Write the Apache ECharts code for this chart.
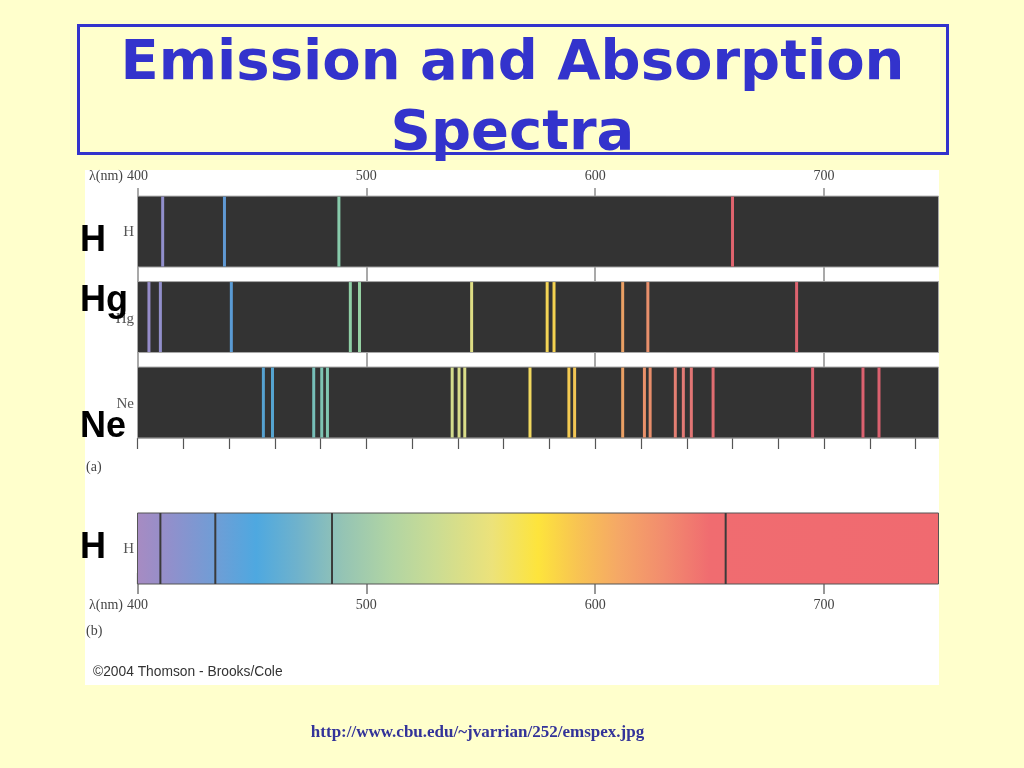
<!DOCTYPE html>
<html><head><meta charset="utf-8">
<script src="https://cdn.jsdelivr.net/npm/echarts@6/dist/echarts.min.js"></script>
<style>html,body{margin:0;padding:0;background:#ffffcc}#c{width:1024px;height:768px}</style>
</head><body><div id="c"></div>
<script>
// ---------- data ----------
const xMin = 400, xMax = 750;
const majorTickValues = [400, 500, 600, 700];
const minorTickValues = [400, 420, 440, 460, 480, 500, 520, 540, 560, 580, 600, 620, 640, 660, 680, 700, 720, 740];
const elements = ['H', 'Hg', 'Ne'];
const hEmission = [411, 438, 488, 660];
const hgEmission = [405, 410, 441, 493, 497, 546, 579, 582, 612, 623, 688];
const neEmission = [455, 459, 477, 480.5, 483, 537.5, 540.5, 543, 571.5, 588.5, 591, 612, 621.5, 624, 635, 638.5, 642, 651.5, 695, 717, 724];
const hAbsorption = [410, 434, 485, 657];
// continuous spectrum colour stops (wavelength -> colour)
const spectrumWl = [400, 415, 435, 452, 470, 490, 510, 530, 555, 575, 592, 610, 630, 650, 750];
const spectrumColors = ['#a78bc2', '#9090cc', '#6e9ed6', '#4ea8e0', '#6fb2cc', '#95c4b4', '#b0d4a4', '#cadc94', '#ece27a', '#fde43c', '#f8c452', '#f5a866', '#f28c6e', '#f06c70', '#f06a70'];
// emission line colour stops
const emissionWl = [400, 425, 440, 460, 480, 495, 540, 560, 585, 600, 612, 625, 640, 660, 750];
const emissionColors = ['#9a8cc8', '#8593d0', '#5a9ad4', '#55a5d0', '#7cc4b4', '#92d2a4', '#d6dc8c', '#f0e070', '#f4d04c', '#f0b860', '#eba064', '#e88c6c', '#e27876', '#e0646e', '#d86070'];

// ---------- helpers ----------
function hexToRgb(h) { return [parseInt(h.substr(1, 2), 16), parseInt(h.substr(3, 2), 16), parseInt(h.substr(5, 2), 16)]; }
function colorAt(w, wls, cols) {
  if (w <= wls[0]) return cols[0];
  for (let i = 1; i < wls.length; i++) {
    if (w <= wls[i]) {
      const t = (w - wls[i - 1]) / (wls[i] - wls[i - 1]);
      const a = hexToRgb(cols[i - 1]), b = hexToRgb(cols[i]);
      const c = a.map((v, k) => Math.round(v + (b[k] - v) * t));
      return 'rgb(' + c.join(',') + ')';
    }
  }
  return cols[cols.length - 1];
}
const BAND_HALF = 0.415; // in row units
const serif = '"Liberation Serif", "DejaVu Serif", serif';
const sans = '"Liberation Sans", Arial, sans-serif';
const titleFont = 'bold 56px "DejaVu Sans", Verdana, sans-serif';

const emissionData = [].concat(
  hEmission.map(w => [w, 0]),
  hgEmission.map(w => [w, 1]),
  neEmission.map(w => [w, 2])
);
const bandData = elements.map((e, i) => [xMin, i, xMax]);

const chart = echarts.init(document.getElementById('c'), null, { renderer: 'canvas' });

const labelStyle = { fontFamily: serif, fontSize: 14, color: '#444' };
function txt(x, y, text, font, fill, align, z) {
  return { type: 'text', z: z || 5, x: x, y: y, silent: true,
    style: { text: text, font: font, fill: fill, align: align, verticalAlign: 'middle', textAlign: align, textVerticalAlign: 'middle' } };
}
const gridLineColor = '#8c8c8c';

const option = {
  backgroundColor: '#ffffcc',
  animation: false,
  grid: [
    { left: 137.5, right: 85.5, top: 188, height: 250 },
    { left: 137.5, right: 85.5, top: 513, height: 71 }
  ],
  xAxis: [
    { type: 'value', gridIndex: 0, position: 'top', min: xMin, max: xMax, interval: 100,
      axisLine: { show: false }, axisTick: { show: false },
      axisLabel: Object.assign({ margin: 5, customValues: majorTickValues }, labelStyle),
      splitLine: { show: true, lineStyle: { color: [gridLineColor, gridLineColor, gridLineColor, gridLineColor, 'rgba(0,0,0,0)'], width: 1.5 } } },
    { type: 'value', gridIndex: 0, position: 'bottom', min: xMin, max: xMax, interval: 20,
      axisLine: { show: true, lineStyle: { color: '#b0b0b0', width: 1 } },
      axisTick: { show: true, customValues: minorTickValues, length: 11, lineStyle: { color: '#555', width: 1.2 } },
      axisLabel: { show: false }, splitLine: { show: false } },
    { type: 'value', gridIndex: 1, position: 'top', min: xMin, max: xMax, interval: 20,
      axisLine: { show: false },
      axisTick: { show: true, customValues: minorTickValues, length: 11, lineStyle: { color: '#555', width: 1.2 } },
      axisLabel: { show: false }, splitLine: { show: false } },
    { type: 'value', gridIndex: 1, position: 'bottom', min: xMin, max: xMax, interval: 100,
      axisLine: { show: false },
      axisTick: { show: true, customValues: majorTickValues, length: 10, lineStyle: { color: '#777', width: 1.5 } },
      axisLabel: Object.assign({ margin: 14, customValues: majorTickValues }, labelStyle),
      splitLine: { show: false } }
  ],
  yAxis: [
    { type: 'value', gridIndex: 0, min: -0.51, max: 2.415, inverse: true, show: false },
    { type: 'value', gridIndex: 1, min: 0, max: 1, show: false }
  ],
  series: [
    { type: 'custom', name: 'bands', xAxisIndex: 0, yAxisIndex: 0, z: 2, silent: true,
      encode: { x: [0, 2], y: 1 }, data: bandData,
      renderItem: function (params, api) {
        const r = api.value(1);
        const p0 = api.coord([api.value(0), r]);
        const p1 = api.coord([api.value(2), r]);
        const h = api.size([0, 1])[1] * BAND_HALF;
        return { type: 'rect', shape: { x: p0[0], y: p0[1] - h, width: p1[0] - p0[0], height: 2 * h },
          style: { fill: '#333333', stroke: '#a8a8a8', lineWidth: 1 } };
      } },
    { type: 'custom', name: 'emission', xAxisIndex: 0, yAxisIndex: 0, z: 3, silent: true,
      encode: { x: 0, y: 1 }, data: emissionData,
      renderItem: function (params, api) {
        const w = api.value(0);
        const p = api.coord([w, api.value(1)]);
        const h = api.size([0, 1])[1] * BAND_HALF;
        return { type: 'rect', shape: { x: p[0] - 1.5, y: p[1] - h + 0.5, width: 3, height: 2 * h - 1 },
          style: { fill: colorAt(w, emissionWl, emissionColors) } };
      } },
    { type: 'custom', name: 'continuum', xAxisIndex: 3, yAxisIndex: 1, z: 2, silent: true,
      encode: { x: [0, 1] }, data: [[xMin, xMax]],
      renderItem: function (params, api) {
        const p0 = api.coord([api.value(0), 1]);
        const p1 = api.coord([api.value(1), 0]);
        const stops = spectrumWl.map((w, i) => ({ offset: (w - xMin) / (xMax - xMin), color: spectrumColors[i] }));
        return { type: 'rect', shape: { x: p0[0], y: p0[1], width: p1[0] - p0[0], height: p1[1] - p0[1] },
          style: { fill: new echarts.graphic.LinearGradient(0, 0, 1, 0, stops), stroke: '#555', lineWidth: 1 } };
      } },
    { type: 'custom', name: 'absorption', xAxisIndex: 3, yAxisIndex: 1, z: 3, silent: true,
      encode: { x: 0 }, data: hAbsorption.map(w => [w]),
      renderItem: function (params, api) {
        const top = api.coord([api.value(0), 1]);
        const bot = api.coord([api.value(0), 0]);
        return { type: 'rect', shape: { x: top[0] - 1, y: top[1], width: 2, height: bot[1] - top[1] },
          style: { fill: '#3a3a3a' } };
      } }
  ],
  graphic: [
    { type: 'rect', z: -100, silent: true, shape: { x: 85, y: 170, width: 854, height: 515 }, style: { fill: '#ffffff' } },
    { type: 'rect', z: 10, silent: true, shape: { x: 78.5, y: 25.5, width: 869, height: 128 },
      style: { fill: 'none', stroke: '#3333cc', lineWidth: 3 } },
    txt(512.5, 64, 'Emission and Absorption', titleFont, '#3333cc', 'center', 10),
    txt(512.5, 134, 'Spectra', titleFont, '#3333cc', 'center', 10),
    // small element labels
    txt(134, 232, elements[0], '15px ' + serif, '#555', 'right'),
    txt(134, 319, elements[1], '15px ' + serif, '#555', 'right'),
    txt(134, 404, elements[2], '15px ' + serif, '#555', 'right'),
    txt(134, 549, elements[0], '15px ' + serif, '#555', 'right'),
    // big element labels
    txt(80, 241, 'H', 'bold 36px ' + sans, '#000', 'left', 6),
    txt(80, 301, 'Hg', 'bold 36px ' + sans, '#000', 'left', 6),
    txt(80, 427, 'Ne', 'bold 36px ' + sans, '#000', 'left', 6),
    txt(80, 548, 'H', 'bold 36px ' + sans, '#000', 'left', 6),
    // axis units and panel tags
    txt(123, 176, 'λ(nm)', '14px ' + serif, '#444', 'right'),
    txt(123, 605, 'λ(nm)', '14px ' + serif, '#444', 'right'),
    txt(86, 467, '(a)', '14px ' + serif, '#444', 'left'),
    txt(86, 631, '(b)', '14px ' + serif, '#444', 'left'),
    txt(93, 672, '©2004 Thomson - Brooks/Cole', '13.8px ' + sans, '#333', 'left'),
    txt(477.5, 733, 'http://www.cbu.edu/~jvarrian/252/emspex.jpg', 'bold 17px ' + serif, '#333399', 'center')
  ]
};
chart.setOption(option);
</script></body></html>
